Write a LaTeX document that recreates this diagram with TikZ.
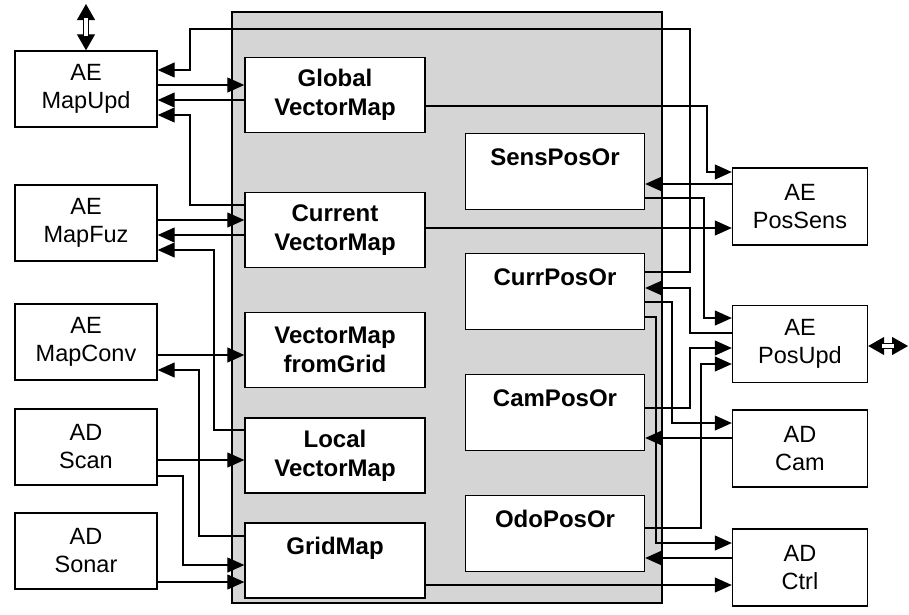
\documentclass[tikz,border=0pt]{standalone}
\usepackage{fontspec}
\setmainfont{Liberation Sans}
\usetikzlibrary{arrows.meta}
\begin{document}
\begin{tikzpicture}[x=1pt,y=-1pt,
  outerbox/.style={draw, line width=1.4pt, fill=white, minimum width=142pt, minimum height=76pt, inner sep=0pt, align=center, font=\fontsize{23.5}{28}\selectfont},
  innerbox/.style={draw, line width=1.4pt, fill=white, minimum width=180pt, minimum height=75pt, inner sep=0pt, align=center, font=\fontsize{24}{29}\selectfont\bfseries},
  posbox/.style={innerbox, minimum width=179pt, minimum height=76pt},
  devbox/.style={outerbox, minimum width=135pt, minimum height=77pt},
  con/.style={line width=1.1pt},
  arr/.style={con, -{Triangle[length=17pt,width=15pt]}},
  dblarr/.style={line width=1pt, {Triangle[length=16pt,width=18pt]}-{Triangle[length=16pt,width=18pt]}},
  dblshaft/.style={line width=1pt, double=white, double distance=4pt, shorten <=14pt, shorten >=14pt},
]
\useasboundingbox (0,0) rectangle (909,614);
% panel
\node[draw, line width=1.4pt, fill=gray!33, minimum width=430pt, minimum height=591pt, inner sep=0pt] (panel) at (447,307.5) {};

% left outer boxes
\node[outerbox] (mapupd) at (86,89) {AE\\MapUpd};
\node[outerbox] (mapfuz) at (86,223) {AE\\MapFuz};
\node[outerbox] (mapconv) at (86,342) {AE\\MapConv};
\node[outerbox] (scan) at (86,447) {AD\\Scan};
\node[outerbox] (sonar) at (86,551) {AD\\Sonar};

% inner map boxes
\node[innerbox] (gvm) at (335,95) {Global\\VectorMap};
\node[innerbox] (cvm) at (335,230) {Current\\VectorMap};
\node[innerbox] (vmfg) at (335,350) {VectorMap\\fromGrid};
\node[innerbox] (lvm) at (335,455.5) {Local\\VectorMap};
\node[innerbox] (grid) at (335,560.5) {GridMap\\\mbox{}};

% inner position boxes
\node[posbox] (sens) at (555,171.5) {SensPosOr\\\mbox{}};
\node[posbox] (curr) at (555,291.5) {CurrPosOr\\\mbox{}};
\node[posbox] (cam) at (555,412.5) {CamPosOr\\\mbox{}};
\node[posbox] (odo) at (555,533.5) {OdoPosOr\\\mbox{}};

% right outer boxes
\node[devbox] (possens) at (800,206.5) {AE\\PosSens};
\node[devbox] (posupd) at (800,344) {AE\\PosUpd};
\node[devbox] (adcam) at (800,448.5) {AD\\Cam};
\node[devbox] (adctrl) at (800,567.5) {AD\\Ctrl};

% free ends of the double arrows
\coordinate (mutop) at (86,4);
\coordinate (puright) at (908,346);
\draw[dblarr] (mapupd.north) -- (mutop);
\draw[dblshaft] (mapupd.north) -- (mutop);
\draw[dblarr] (posupd.east |- 0,346) -- (puright);
\draw[dblshaft] (posupd.east |- 0,346) -- (puright);

% left connectors
\draw[arr] (curr.east |- 0,272) -- (690,272) -- (690,29) -- (190,29) -- (190,70) -- (mapupd.east |- 0,70);
\draw[arr] (mapupd.east |- 0,85) -- (gvm.west |- 0,85);
\draw[arr] (gvm.west |- 0,100) -- (mapupd.east |- 0,100);
\draw[arr] (cvm.west |- 0,205) -- (190,205) -- (190,115) -- (mapupd.east |- 0,115);
\draw[arr] (mapfuz.east |- 0,220) -- (cvm.west |- 0,220);
\draw[arr] (cvm.west |- 0,235) -- (mapfuz.east |- 0,235);
\draw[arr] (lvm.west |- 0,430) -- (214,430) -- (214,250) -- (mapfuz.east |- 0,250);
\draw[arr] (mapconv.east |- 0,355) -- (vmfg.west |- 0,355);
\draw[arr] (grid.west |- 0,536) -- (199,536) -- (199,370) -- (mapconv.east |- 0,370);
\draw[arr] (scan.east |- 0,460) -- (lvm.west |- 0,460);
\draw[arr] (scan.east |- 0,476) -- (183,476) -- (183,565) -- (grid.west |- 0,565);
\draw[arr] (sonar.east |- 0,582) -- (grid.west |- 0,582);

% right connectors
\draw[arr] (gvm.east |- 0,106) -- (707,106) -- (707,172) -- (possens.west |- 0,172);
\draw[arr] (possens.west |- 0,184) -- (sens.east |- 0,184);
\draw[arr] (sens.east |- 0,198) -- (704,198) -- (704,318) -- (posupd.west |- 0,318);
\draw[arr] (cvm.east |- 0,228) -- (possens.west |- 0,228);
\draw[arr] (posupd.west |- 0,333) -- (690,333) -- (690,288) -- (curr.east |- 0,288);
\draw[arr] (curr.east |- 0,302) -- (672,302) -- (672,423) -- (adcam.west |- 0,423);
\draw[arr] (curr.east |- 0,317) -- (656,317) -- (656,543) -- (adctrl.west |- 0,543);
\draw[arr] (cam.east |- 0,408) -- (690,408) -- (690,348) -- (posupd.west |- 0,348);
\draw[arr] (odo.east |- 0,528) -- (701,528) -- (701,364) -- (posupd.west |- 0,364);
\draw[arr] (adcam.west |- 0,438) -- (cam.east |- 0,438);
\draw[arr] (adctrl.west |- 0,558) -- (odo.east |- 0,558);
\draw[arr] (grid.east |- 0,585) -- (adctrl.west |- 0,585);
\end{tikzpicture}
\end{document}
